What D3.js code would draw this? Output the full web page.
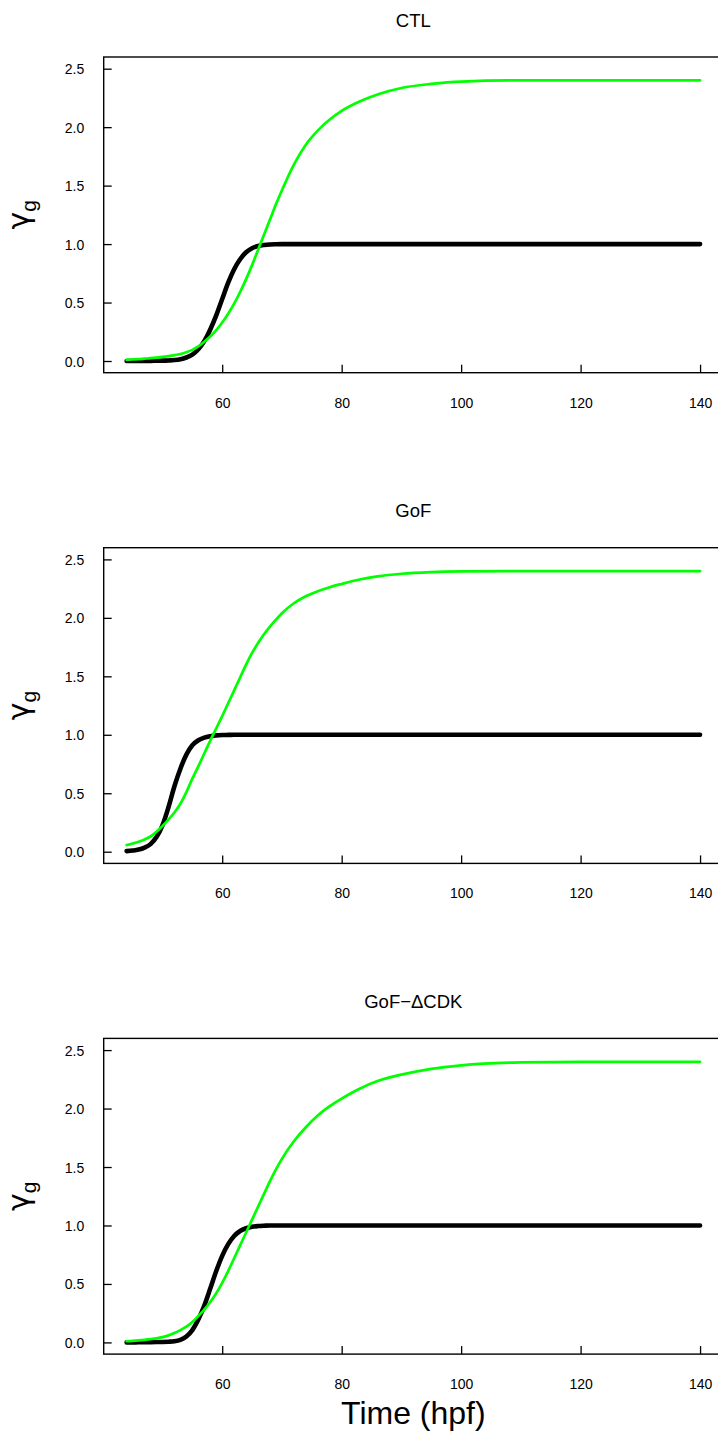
<!DOCTYPE html>
<html>
<head>
<meta charset="utf-8">
<script src="https://cdn.jsdelivr.net/npm/d3@7"></script>
<style>
  html, body { margin: 0; padding: 0; background: #fff; }
  svg { display: block; }
  text { font-family: "Liberation Sans", Arial, sans-serif; fill: #000; }
</style>
</head>
<body>
<svg id="chart" width="718" height="1436"></svg>
<script>
// ---- data ----
const time = [44,45,46,47,48,49,50,51,52,53,54,55,56,57,58,59,60,61,62,63,64,65,66,67,68,69,70,
              72,74,76,78,80,83,86,90,95,100,110,120,130,140];

const ctlBlack = [0,0,0,0.001,0.001,0.002,0.003,0.005,0.008,0.015,0.03,0.055,0.10,0.17,0.27,0.39,0.53,0.67,0.785,0.87,0.93,0.965,0.983,0.992,0.997,0.999,1,
                  1,1,1,1,1,1,1,1,1,1,1,1,1,1];
const ctlGreen = [0.01,0.013,0.016,0.02,0.024,0.029,0.035,0.042,0.05,0.06,0.075,0.095,0.125,0.165,0.21,0.265,0.33,0.405,0.49,0.59,0.70,0.82,0.95,1.08,1.21,1.34,1.46,
                  1.68,1.85,1.97,2.065,2.14,2.22,2.28,2.335,2.37,2.39,2.40,2.40,2.40,2.40];

const gofBlack = [0.005,0.01,0.018,0.035,0.065,0.125,0.225,0.38,0.56,0.71,0.83,0.91,0.953,0.976,0.988,0.995,0.998,0.999,1,1,1,1,1,1,1,1,1,
                  1,1,1,1,1,1,1,1,1,1,1,1,1,1];
const gofGreen = [0.057,0.07,0.085,0.105,0.13,0.17,0.22,0.275,0.335,0.41,0.51,0.625,0.73,0.84,0.95,1.055,1.16,1.27,1.38,1.49,1.60,1.70,1.785,1.86,1.925,1.985,2.04,
                  2.125,2.185,2.228,2.262,2.29,2.328,2.355,2.377,2.391,2.397,2.40,2.40,2.40,2.40];

const cdkBlack = [0,0,0.001,0.001,0.002,0.003,0.004,0.006,0.01,0.022,0.05,0.105,0.195,0.315,0.46,0.61,0.74,0.84,0.91,0.953,0.976,0.989,0.995,0.998,1,1,1,
                  1,1,1,1,1,1,1,1,1,1,1,1,1,1];
const cdkGreen = [0.01,0.013,0.017,0.022,0.028,0.035,0.045,0.06,0.08,0.105,0.135,0.175,0.225,0.28,0.345,0.42,0.51,0.61,0.72,0.83,0.94,1.05,1.16,1.27,1.38,1.48,1.57,
                  1.72,1.84,1.94,2.02,2.085,2.17,2.235,2.29,2.34,2.37,2.395,2.40,2.40,2.40];

const panelTitles = ["CTL", "GoF", "GoF\u2212\u0394CDK"];
const blackSeries = [ctlBlack, gofBlack, cdkBlack];
const greenSeries = [ctlGreen, gofGreen, cdkGreen];
const yTicks = [0, 0.5, 1.0, 1.5, 2.0, 2.5];
const xTicks = [60, 80, 100, 120, 140];
const yLabelMain = "\u03B3";
const yLabelSub = "g";
const xLabel = "Time (hpf)";

// ---- layout ----
const svg = d3.select("#chart");
svg.append("rect").attr("width", 718).attr("height", 1436).attr("fill", "#fff");

const boxLeft = 103.7, boxRight = 723;
const boxH = 315.7, firstTop = 57, panelStep = 490.7;

const x = d3.scaleLinear().domain([40.16, 143.84]).range([boxLeft, boxRight]);

panelTitles.forEach((title, i) => {
  const top = firstTop + i * panelStep;
  const bottom = top + boxH;
  const y = d3.scaleLinear().domain([-0.1, 2.6]).range([bottom, top]);
  const g = svg.append("g");

  // title
  g.append("text")
    .attr("x", (boxLeft + boxRight) / 2)
    .attr("y", top - 30.5)
    .attr("text-anchor", "middle")
    .style("font-size", "18.5px")
    .text(title);

  // y axis (ticks inward)
  const ya = g.append("g").attr("transform", `translate(${boxLeft},0)`)
    .call(d3.axisLeft(y).tickValues(yTicks).tickFormat(d3.format(".1f"))
      .tickSizeInner(-8).tickSizeOuter(0).tickPadding(19.5));
  ya.select(".domain").remove();
  ya.selectAll(".tick line").attr("stroke", "#000").attr("stroke-width", 1.3);
  ya.selectAll(".tick text").style("font-size", "14px").attr("font-family", null)
    .attr("dy", "0.36em");

  // x axis (ticks inward)
  const xa = g.append("g").attr("transform", `translate(0,${bottom})`)
    .call(d3.axisBottom(x).tickValues(xTicks).tickFormat(d3.format("d"))
      .tickSizeInner(-8).tickSizeOuter(0).tickPadding(25));
  xa.select(".domain").remove();
  xa.selectAll(".tick line").attr("stroke", "#000").attr("stroke-width", 1.3);
  xa.selectAll(".tick text").style("font-size", "14px").attr("font-family", null)
    .attr("dy", "0.71em");

  // box
  g.append("rect")
    .attr("x", boxLeft).attr("y", top)
    .attr("width", boxRight - boxLeft).attr("height", boxH)
    .attr("fill", "none").attr("stroke", "#000").attr("stroke-width", 1.4);

  // y label
  const yl = g.append("text")
    .attr("transform", `translate(29,${(top + bottom) / 2}) rotate(-90)`)
    .attr("text-anchor", "middle")
    .style("font-size", "30px");
  yl.append("tspan").style("font-family", "'DejaVu Sans', sans-serif").text(yLabelMain);
  yl.append("tspan").attr("dy", 7).style("font-size", "21px").text(yLabelSub);

  // curves
  const line = d3.line()
    .x((d, j) => x(time[j]))
    .y(d => y(d))
    .curve(d3.curveMonotoneX);

  g.append("path").datum(blackSeries[i])
    .attr("d", line)
    .attr("fill", "none").attr("stroke", "#000").attr("stroke-width", 4.6)
    .attr("stroke-linecap", "round").attr("stroke-linejoin", "round");

  g.append("path").datum(greenSeries[i])
    .attr("d", line)
    .attr("fill", "none").attr("stroke", "#00ff00").attr("stroke-width", 2.7)
    .attr("stroke-linecap", "round").attr("stroke-linejoin", "round");

  if (i === panelTitles.length - 1) {
    g.append("text")
      .attr("x", (boxLeft + boxRight) / 2)
      .attr("y", bottom + 70)
      .attr("text-anchor", "middle")
      .style("font-size", "32px")
      .text(xLabel);
  }
});
</script>
</body>
</html>
